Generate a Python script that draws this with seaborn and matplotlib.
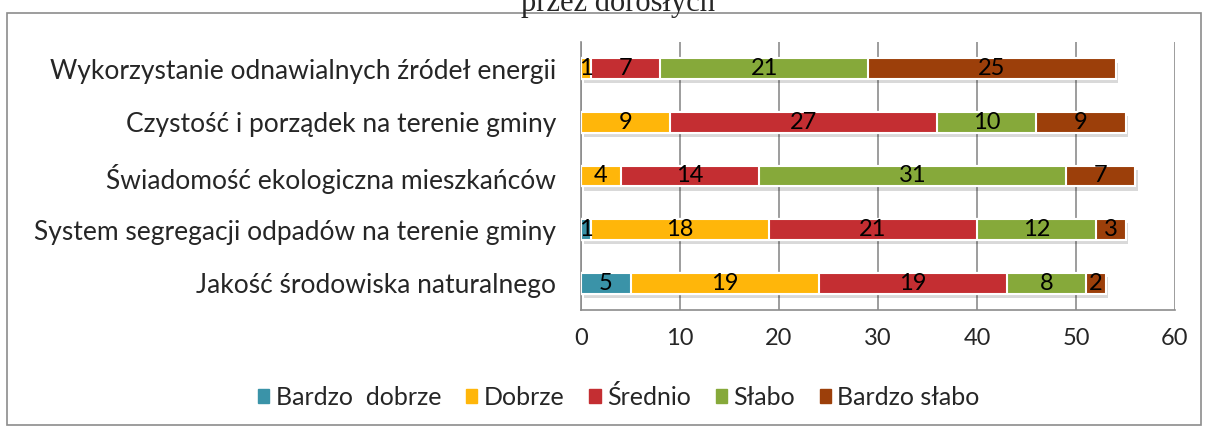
import matplotlib
matplotlib.use("Agg")
import matplotlib.pyplot as plt
import matplotlib.patheffects as pe
from matplotlib.patches import Rectangle
import seaborn as sns
import pandas as pd
import numpy as np

categories = [
    "Wykorzystanie odnawialnych źródeł energii",
    "Czystość i porządek na terenie gminy",
    "Świadomość ekologiczna mieszkańców",
    "System segregacji odpadów na terenie gminy",
    "Jakość środowiska naturalnego",
]
series_names = ["Bardzo  dobrze", "Dobrze", "Średnio", "Słabo", "Bardzo słabo"]
bardzo_dobrze = [0, 0, 0, 1, 5]
dobrze = [1, 9, 4, 18, 19]
srednio = [7, 27, 14, 21, 19]
slabo = [21, 10, 31, 12, 8]
bardzo_slabo = [25, 9, 7, 3, 2]
colors = ["#3A93A8", "#FFB60A", "#C42E32", "#86A93A", "#9C3F0A"]
x_ticks = [0, 10, 20, 30, 40, 50, 60]

sns.set_style("white")
plt.rcParams["font.family"] = ["Lato", "DejaVu Sans"]

values = np.array([bardzo_dobrze, dobrze, srednio, slabo, bardzo_slabo], dtype=float)
cum = np.cumsum(values, axis=0)

fig = plt.figure(figsize=(12.05, 4.28), dpi=100)
ax = fig.add_axes([581 / 1205, 1 - 310 / 428, (1175 - 581) / 1205, (310 - 42) / 428])

shadow = [pe.SimplePatchShadow(offset=(2, -3), alpha=0.15, shadow_rgbFace="black"), pe.Normal()]

for i in range(len(series_names) - 1, -1, -1):
    df = pd.DataFrame({"cat": categories, "val": cum[i]})
    sns.barplot(data=df, y="cat", x="val", orient="h", color=colors[i],
                width=0.39, edgecolor="white", linewidth=1.5, ax=ax,
                saturation=1, errorbar=None, zorder=3)

for j, p in enumerate(ax.patches):
    if j < len(categories):
        p.set_path_effects(shadow)

for i in range(len(series_names)):
    for j in range(len(categories)):
        v = values[i, j]
        if v > 0:
            ax.text(cum[i, j] - v / 2, j, f"{int(v)}", ha="center", va="center",
                    fontsize=17, color="black", zorder=5)

ax.set_xlim(0, 60)
ax.set_ylim(4.5, -0.5)
ax.set_xticks(x_ticks)
ax.set_xticklabels([str(t) for t in x_ticks], fontsize=17)
ax.set_yticks(range(len(categories)))
ax.set_yticklabels(categories, fontsize=19)
ax.set_yticks(np.arange(-0.5, 5.0, 1.0), minor=True)
ax.tick_params(axis="y", which="major", length=0, pad=18)
ax.tick_params(axis="y", which="minor", length=6, color="#8c8c8c", width=1.2, direction="out")
ax.tick_params(axis="x", length=6, color="#8c8c8c", width=1.2, direction="out", pad=7)
ax.set_xlabel("")
ax.set_ylabel("")
ax.grid(axis="x", color="#8c8c8c", linewidth=1.2, zorder=0)
ax.set_axisbelow(True)
for s in ["top", "right"]:
    ax.spines[s].set_visible(False)
for s in ["left", "bottom"]:
    ax.spines[s].set_color("#8c8c8c")
    ax.spines[s].set_linewidth(1.2)

handles = [Rectangle((0, 0), 1, 1, color=c) for c in colors]
fig.legend(handles, series_names, loc="center", bbox_to_anchor=(619 / 1205, 1 - 397 / 428),
           ncol=5, frameon=False, fontsize=18, handlelength=0.45, handleheight=0.45,
           handletextpad=0.25, columnspacing=1.0)

fig.patches.append(Rectangle((7 / 1205, 1 - 425 / 428), (1201 - 7) / 1205, (425 - 13) / 428,
                             transform=fig.transFigure, fill=False, edgecolor="#8c8c8c",
                             linewidth=1.2))
fig.text(618 / 1205, 1 - 3 / 428, "przez dorosłych", ha="center", va="center",
         fontsize=22, family=["Liberation Serif", "DejaVu Serif"])

fig.savefig("out.png", dpi=100)
